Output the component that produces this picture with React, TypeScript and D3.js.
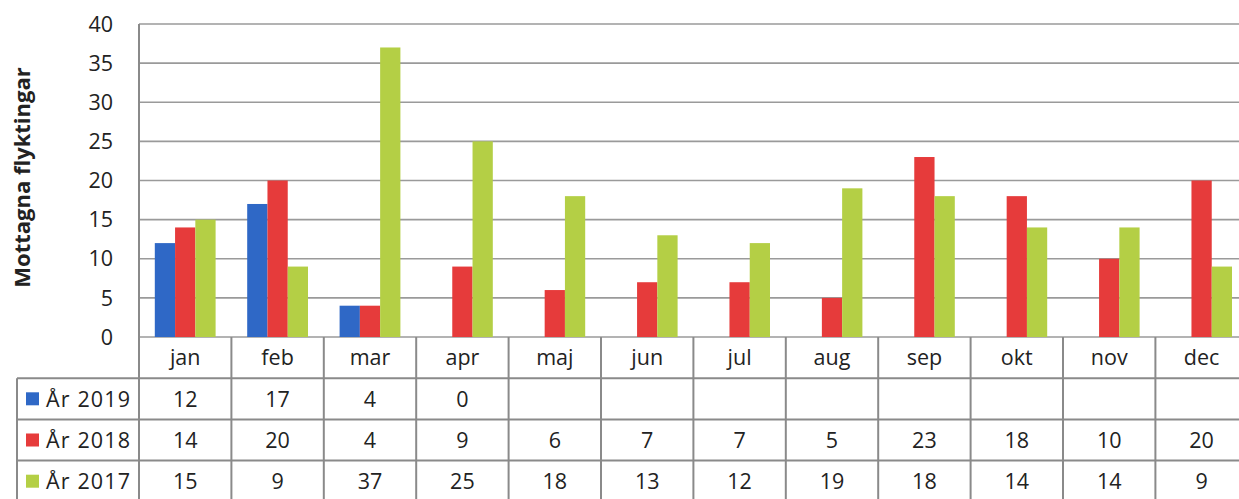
import React from "react";
import * as d3 from "d3";

const months = ["jan", "feb", "mar", "apr", "maj", "jun", "jul", "aug", "sep", "okt", "nov", "dec"];
const seriesNames = ["År 2019", "År 2018", "År 2017"];
const y2019: (number | null)[] = [12, 17, 4, 0, null, null, null, null, null, null, null, null];
const y2018: (number | null)[] = [14, 20, 4, 9, 6, 7, 7, 5, 23, 18, 10, 20];
const y2017: (number | null)[] = [15, 9, 37, 25, 18, 13, 12, 19, 18, 14, 14, 9];
const yTicks = [0, 5, 10, 15, 20, 25, 30, 35, 40];
const colors = ["#2f68c6", "#e63b3b", "#b4cf45"];

const W = 1239;
const H = 499;
const left = 139;
const colW = 92.4;
const right = left + colW * 12;
const top = 24;
const base = 337;
const rowH = 41.2;
const tableLeft = 17;
const FONT = "'Open Sans', Lato, sans-serif";
const FS = 21.5;

export default function App() {
  const series = [y2019, y2018, y2017];
  const x0 = d3.scaleBand<string>().domain(months).range([left, right]).paddingInner(0).paddingOuter(0);
  const x1 = d3.scaleBand<number>().domain([0, 1, 2]).range([15.8, colW - 15.8]);
  const y = d3.scaleLinear().domain([0, 40]).range([base, top]);
  const gridColor = "#9a9a9a";
  const lineColor = "#8a8a8a";
  const rowsTop = base + rowH;
  return (
    <svg width={W} height={H} style={{ position: "absolute", left: 0, top: 0, background: "#fff" }} fontFamily={FONT}>
      {yTicks.map((t) => (
        <line key={t} x1={left} x2={right} y1={y(t)} y2={y(t)} stroke={gridColor} strokeWidth={1.6} />
      ))}
      {yTicks.map((t) => (
        <text key={"l" + t} x={113} y={y(t)} dy="0.36em" textAnchor="end" fontSize={FS} fill="#222">
          {t}
        </text>
      ))}
      <text
        transform={`translate(30,${(top + base) / 2 - 3}) rotate(-90)`}
        textAnchor="middle"
        fontSize={22}
        fontWeight="bold"
        fill="#222"
      >
        Mottagna flyktingar
      </text>
      {series.map((s, si) =>
        s.map((v, mi) =>
          v == null || v === 0 ? null : (
            <rect
              key={si + "-" + mi}
              x={(x0(months[mi]) as number) + (x1(si) as number)}
              y={y(v)}
              width={x1.bandwidth()}
              height={base - y(v)}
              fill={colors[si]}
            />
          )
        )
      )}
      <line x1={left} x2={left} y1={top} y2={H} stroke={lineColor} strokeWidth={2} />
      {months.map((m, i) => (
        <line
          key={"v" + m}
          x1={left + colW * (i + 1)}
          x2={left + colW * (i + 1)}
          y1={base}
          y2={H}
          stroke={lineColor}
          strokeWidth={2}
        />
      ))}
      <line x1={tableLeft} x2={tableLeft} y1={rowsTop} y2={H} stroke={lineColor} strokeWidth={2} />
      {[0, 1, 2].map((r) => (
        <line
          key={"h" + r}
          x1={tableLeft}
          x2={right}
          y1={rowsTop + rowH * r}
          y2={rowsTop + rowH * r}
          stroke={lineColor}
          strokeWidth={2}
        />
      ))}
      {months.map((m) => (
        <text
          key={"m" + m}
          x={(x0(m) as number) + colW / 2}
          y={base + rowH / 2}
          dy="0.36em"
          textAnchor="middle"
          fontSize={FS}
          fill="#222"
        >
          {m}
        </text>
      ))}
      {series.map((s, si) => {
        const cy = rowsTop + rowH * si + rowH / 2;
        return (
          <g key={"row" + si}>
            <rect x={26} y={cy - 6.5} width={13} height={13} fill={colors[si]} />
            <text x={46} y={cy} dy="0.36em" fontSize={FS} fill="#222" textLength={84} lengthAdjust="spacing">
              {seriesNames[si]}
            </text>
            {s.map((v, mi) =>
              v == null ? null : (
                <text
                  key={"v" + mi}
                  x={(x0(months[mi]) as number) + colW / 2}
                  y={cy}
                  dy="0.36em"
                  textAnchor="middle"
                  fontSize={FS}
                  fill="#222"
                >
                  {v}
                </text>
              )
            )}
          </g>
        );
      })}
    </svg>
  );
}
